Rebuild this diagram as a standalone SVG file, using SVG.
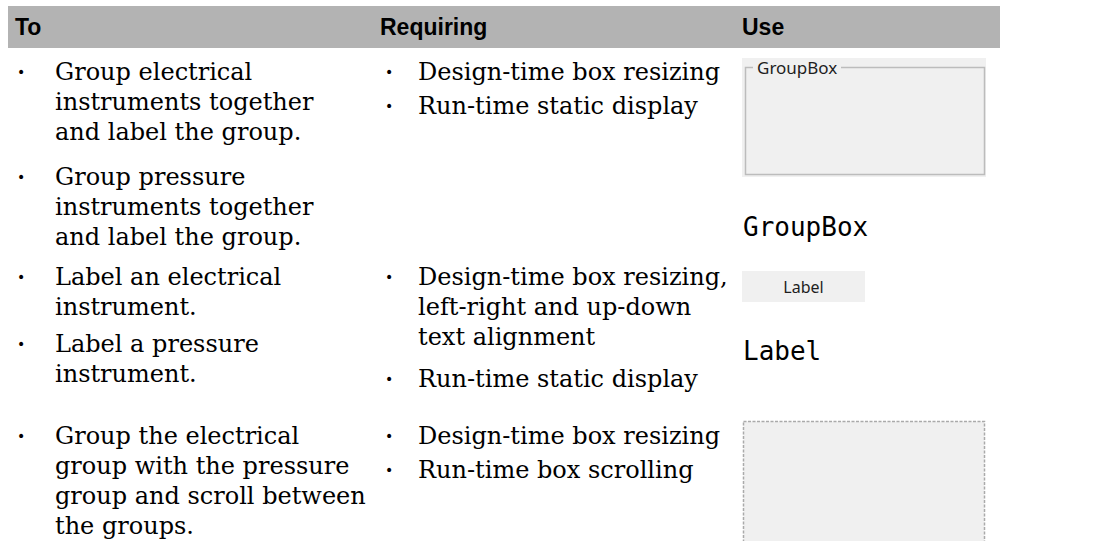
<svg xmlns="http://www.w3.org/2000/svg" width="1107" height="541" viewBox="0 0 1107 541">
<style>
.hd{font-family:"Liberation Sans",Arial,sans-serif;font-weight:bold;font-size:23px;fill:#000}
.bd{font-family:"DejaVu Serif","Liberation Serif",serif;font-size:24px;fill:#000}
.bl{font-family:"DejaVu Sans",sans-serif;font-size:14px;fill:#000}
.mono{font-family:"DejaVu Sans Mono","Liberation Mono",monospace;font-size:26px;fill:#000}
.ui{font-family:"Noto Sans","Liberation Sans",sans-serif;fill:#1e1e1e}
.panel{fill:#f0f0f0}
</style>
<rect width="1107" height="541" fill="#fff"/>
<g id="header">
<rect x="8" y="6" width="992" height="42" fill="#b3b3b3"/>
<text class="hd" x="15" y="35">To</text>
<text class="hd" x="380" y="35">Requiring</text>
<text class="hd" x="742" y="35">Use</text>
</g>
<g id="row1-to">
<text class="bl" x="17" y="77">•</text>
<text class="bd" x="55" y="80">Group electrical</text>
<text class="bd" x="55" y="110">instruments together</text>
<text class="bd" x="55" y="140">and label the group.</text>
<text class="bl" x="17" y="182">•</text>
<text class="bd" x="55" y="185">Group pressure</text>
<text class="bd" x="55" y="215">instruments together</text>
<text class="bd" x="55" y="245">and label the group.</text>
</g>
<g id="row1-req">
<text class="bl" x="385" y="77">•</text>
<text class="bd" x="418" y="80">Design-time box resizing</text>
<text class="bl" x="385" y="111">•</text>
<text class="bd" x="418" y="114">Run-time static display</text>
</g>
<g id="row1-use">
<rect class="panel" x="742" y="58" width="244" height="119"/>
<path d="M753 67.5 H745.5 V174.5 H984.5 V67.5 H841" fill="none" stroke="#bcbcbc" stroke-width="1.5"/>
<text class="ui" x="757" y="74" font-size="17">GroupBox</text>
<text class="mono" x="743" y="236">GroupBox</text>
</g>
<g id="row2-to">
<text class="bl" x="17" y="282">•</text>
<text class="bd" x="55" y="285">Label an electrical</text>
<text class="bd" x="55" y="315">instrument.</text>
<text class="bl" x="17" y="349">•</text>
<text class="bd" x="55" y="352">Label a pressure</text>
<text class="bd" x="55" y="382">instrument.</text>
</g>
<g id="row2-req">
<text class="bl" x="385" y="282">•</text>
<text class="bd" x="418" y="285">Design-time box resizing,</text>
<text class="bd" x="418" y="315">left-right and up-down</text>
<text class="bd" x="418" y="345">text alignment</text>
<text class="bl" x="385" y="384">•</text>
<text class="bd" x="418" y="387">Run-time static display</text>
</g>
<g id="row2-use">
<rect class="panel" x="742" y="271" width="123" height="31"/>
<text class="ui" x="803.5" y="293" font-size="16" text-anchor="middle">Label</text>
<text class="mono" x="743" y="360">Label</text>
</g>
<g id="row3-to">
<text class="bl" x="17" y="441">•</text>
<text class="bd" x="55" y="444">Group the electrical</text>
<text class="bd" x="55" y="474">group with the pressure</text>
<text class="bd" x="55" y="504">group and scroll between</text>
<text class="bd" x="55" y="534">the groups.</text>
</g>
<g id="row3-req">
<text class="bl" x="385" y="441">•</text>
<text class="bd" x="418" y="444">Design-time box resizing</text>
<text class="bl" x="385" y="475">•</text>
<text class="bd" x="418" y="478">Run-time box scrolling</text>
</g>
<g id="row3-use">
<rect x="743.5" y="421.5" width="241" height="130" fill="#f0f0f0" stroke="#aaaaaa" stroke-width="1.5" stroke-dasharray="3 1.5"/>
</g>
</svg>
